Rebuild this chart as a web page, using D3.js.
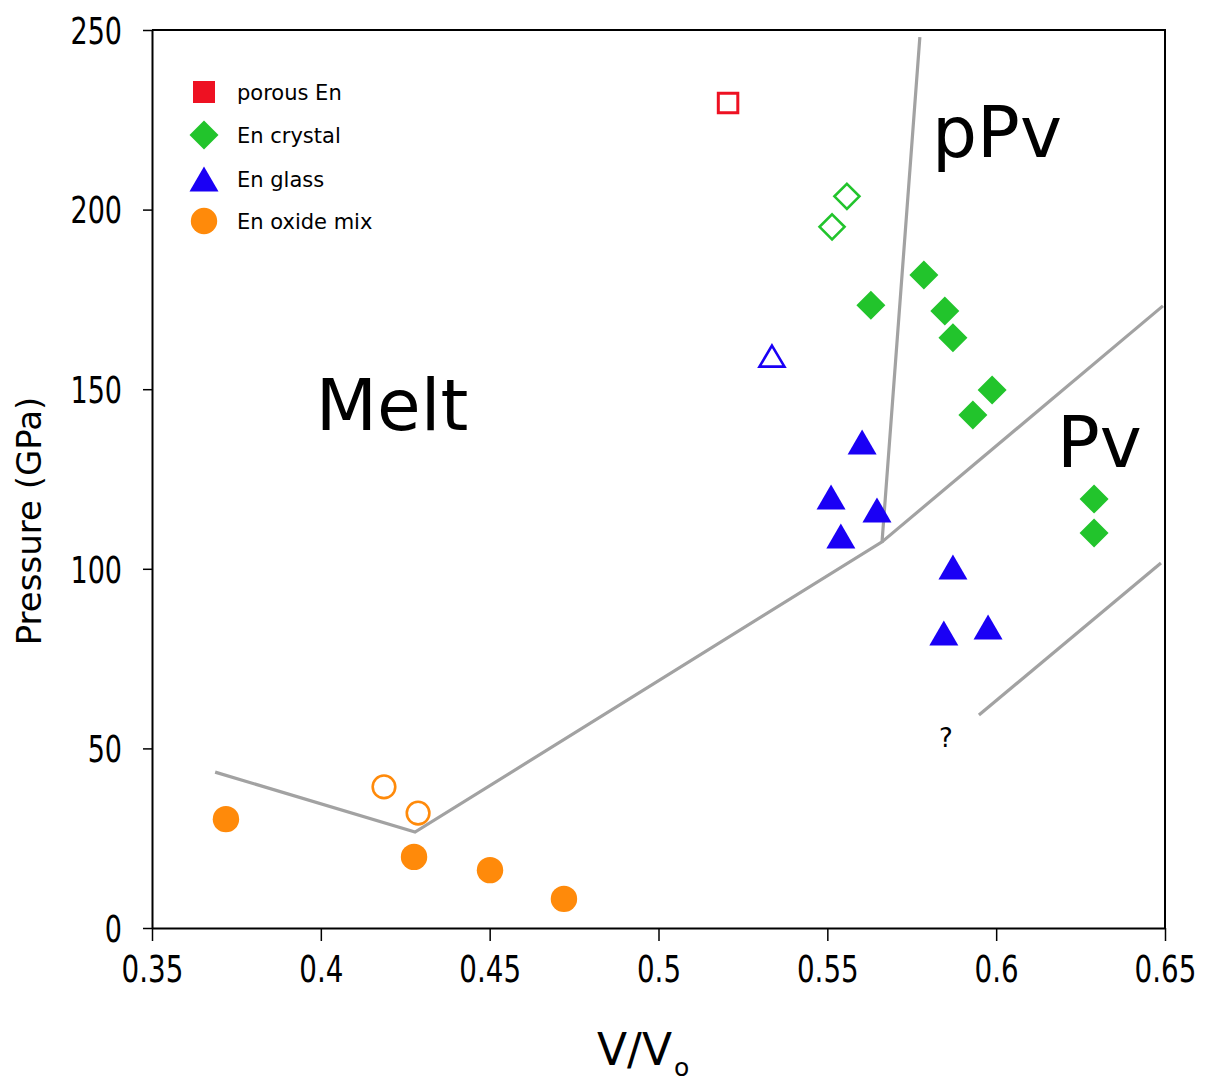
<!DOCTYPE html>
<html>
<head>
<meta charset="utf-8">
<script src="https://cdn.jsdelivr.net/npm/d3@7"></script>
<style>
  body { margin: 0; background: #fff; }
  svg { display: block; }
</style>
</head>
<body>
<svg id="chart" width="1206" height="1082"></svg>
<script>
// ---------- data ----------
const xTicks = [0.35, 0.4, 0.45, 0.5, 0.55, 0.6, 0.65];
const xTickLabels = ["0.35", "0.4", "0.45", "0.5", "0.55", "0.6", "0.65"];
const yTicks = [0, 50, 100, 150, 200, 250];

// porous En (open square)
const porousOpen = [[0.5206, 229.7]];
// En crystal
const crystalOpen = [[0.5558, 203.7], [0.5514, 195.2]];
const crystalFilled = [[0.5629, 173.4], [0.5786, 181.8], [0.5848, 171.8], [0.5872, 164.3],
                       [0.5931, 142.8], [0.5988, 149.8], [0.629, 119.4], [0.629, 110.0]];
// En glass
const glassOpen = [[0.5336, 159.2]];
const glassFilled = [[0.5603, 135.3], [0.5511, 120.0], [0.5647, 116.4], [0.5540, 109.1],
                     [0.5872, 100.5], [0.5845, 82.1], [0.5976, 83.8]];
// En oxide mix
const oxideOpen = [[0.4187, 39.3], [0.4288, 32.0]];
const oxideFilled = [[0.3719, 30.3], [0.4276, 19.8], [0.4501, 16.1], [0.4720, 8.1]];

// phase boundaries
const meltBoundary = [[0.3687, 43.4], [0.4279, 26.7], [0.5662, 107.5], [0.5774, 248.0]];
const pvBoundary = [[0.5662, 107.5], [0.6494, 173.2]];
const lowerBoundary = [[0.5949, 59.3], [0.6488, 101.6]];

// region labels [text, x, y]
const regionLabels = [["Melt", 0.3985, 138.6], ["pPv", 0.5810, 214.7], ["Pv", 0.6180, 128.3]];
const questionLabel = [["?", 0.5851, 50.4]];

const legendItems = ["porous En", "En crystal", "En glass", "En oxide mix"];

// ---------- layout ----------
const RED = "#ee1122", GREEN = "#22c42c", BLUE = "#1a00f5", ORANGE = "#ff8a0a", GRAY = "#a2a2a2";
const svg = d3.select("#chart");
const x = d3.scaleLinear().domain([0.35, 0.65]).range([152, 1165]);
const y = d3.scaleLinear().domain([0, 250]).range([928, 30]);

// frame (top/right)
svg.append("path")
  .attr("d", `M${x(0.35)},${y(250)}H${x(0.65)}V${y(0)}`)
  .attr("fill", "none").attr("stroke", "#000").attr("stroke-width", 2);

// phase boundary lines
const line = d3.line().x(d => x(d[0])).y(d => y(d[1]));
[meltBoundary, pvBoundary, lowerBoundary].forEach(l => {
  svg.append("path").attr("d", line(l)).attr("fill", "none")
    .attr("stroke", GRAY).attr("stroke-width", 3.2);
});

// axes
const xAxis = svg.append("g").attr("transform", `translate(0,${y(0)})`)
  .call(d3.axisBottom(x).tickValues(xTicks).tickFormat((d, i) => xTickLabels[i]).tickSize(13).tickSizeOuter(0));
const yAxis = svg.append("g").attr("transform", `translate(${x(0.35)},0)`)
  .call(d3.axisLeft(y).tickValues(yTicks).tickFormat(d3.format("d")).tickSize(9).tickSizeOuter(0));
[xAxis, yAxis].forEach(a => {
  a.select(".domain").attr("stroke", "#000").attr("stroke-width", 2);
  a.selectAll(".tick line").attr("stroke", "#000").attr("stroke-width", 1.5);
  a.selectAll(".tick text").attr("fill", "#000")
    .attr("font-family", "DejaVu Sans").attr("font-size", 37);
});
xAxis.selectAll(".tick text").attr("y", 54).attr("dy", 0)
  .attr("transform", "scale(0.75,1)");
yAxis.selectAll(".tick text").attr("x", -30 / 0.73).attr("dy", "0.36em")
  .attr("transform", "scale(0.73,1)");

// axis titles
svg.append("text").attr("transform", "translate(41,521) rotate(-90)")
  .attr("text-anchor", "middle").attr("font-family", "DejaVu Sans").attr("font-size", 34)
  .attr("fill", "#000").text("Pressure (GPa)");
const xt = svg.append("text").attr("x", 597).attr("y", 1065)
  .attr("font-family", "DejaVu Sans").attr("font-size", 44).attr("fill", "#000");
xt.append("tspan").text("V/V");
xt.append("tspan").attr("font-size", 25).attr("dy", 11).attr("dx", 2).text("o");

// region labels
svg.selectAll(".region").data(regionLabels).enter().append("text")
  .attr("x", d => x(d[1])).attr("y", d => y(d[2]))
  .attr("font-family", "DejaVu Sans").attr("font-size", 71).attr("fill", "#000")
  .text(d => d[0]);
svg.selectAll(".q").data(questionLabel).enter().append("text")
  .attr("x", d => x(d[1])).attr("y", d => y(d[2])).attr("text-anchor", "middle")
  .attr("font-family", "DejaVu Sans").attr("font-size", 26).attr("fill", "#000")
  .text(d => d[0]);

// marker shapes
const sq = s => `M${-s/2},${-s/2}h${s}v${s}h${-s}Z`;
const dia = r => `M0,${-r}L${r},0L0,${r}L${-r},0Z`;
const tri = (w, h) => `M0,${-h/2}L${w/2},${h/2}L${-w/2},${h/2}Z`;

function pts(data, pathStr, fill, stroke, sw) {
  svg.append("g").selectAll("path").data(data).enter().append("path")
    .attr("transform", d => `translate(${x(d[0])},${y(d[1])})`)
    .attr("d", pathStr).attr("fill", fill).attr("stroke", stroke).attr("stroke-width", sw);
}
function circ(data, r, fill, stroke, sw) {
  svg.append("g").selectAll("circle").data(data).enter().append("circle")
    .attr("cx", d => x(d[0])).attr("cy", d => y(d[1])).attr("r", r)
    .attr("fill", fill).attr("stroke", stroke).attr("stroke-width", sw);
}

pts(porousOpen, sq(19.5), "none", RED, 3);
pts(crystalOpen, dia(12.5), "none", GREEN, 2.6);
pts(crystalFilled, dia(14.5), GREEN, "none", 0);
pts(glassOpen, tri(25, 21), "none", BLUE, 2.6);
pts(glassFilled, tri(29, 25), BLUE, "none", 0);
circ(oxideOpen, 11.3, "none", ORANGE, 2.6);
circ(oxideFilled, 13.2, ORANGE, "none", 0);

// legend
const lg = svg.append("g");
const legendY = [92, 135, 179, 221];
const legendShapes = [
  g => g.append("path").attr("d", sq(22)).attr("fill", RED),
  g => g.append("path").attr("d", dia(14.5)).attr("fill", GREEN),
  g => g.append("path").attr("d", tri(29, 25)).attr("fill", BLUE),
  g => g.append("circle").attr("r", 13.2).attr("fill", ORANGE)
];
legendItems.forEach((name, i) => {
  const g = lg.append("g").attr("transform", `translate(204,${legendY[i]})`);
  legendShapes[i](g);
  g.append("text").attr("x", 33).attr("y", 7.5)
    .attr("font-family", "DejaVu Sans").attr("font-size", 21).attr("fill", "#000")
    .text(name);
});
</script>
</body>
</html>
